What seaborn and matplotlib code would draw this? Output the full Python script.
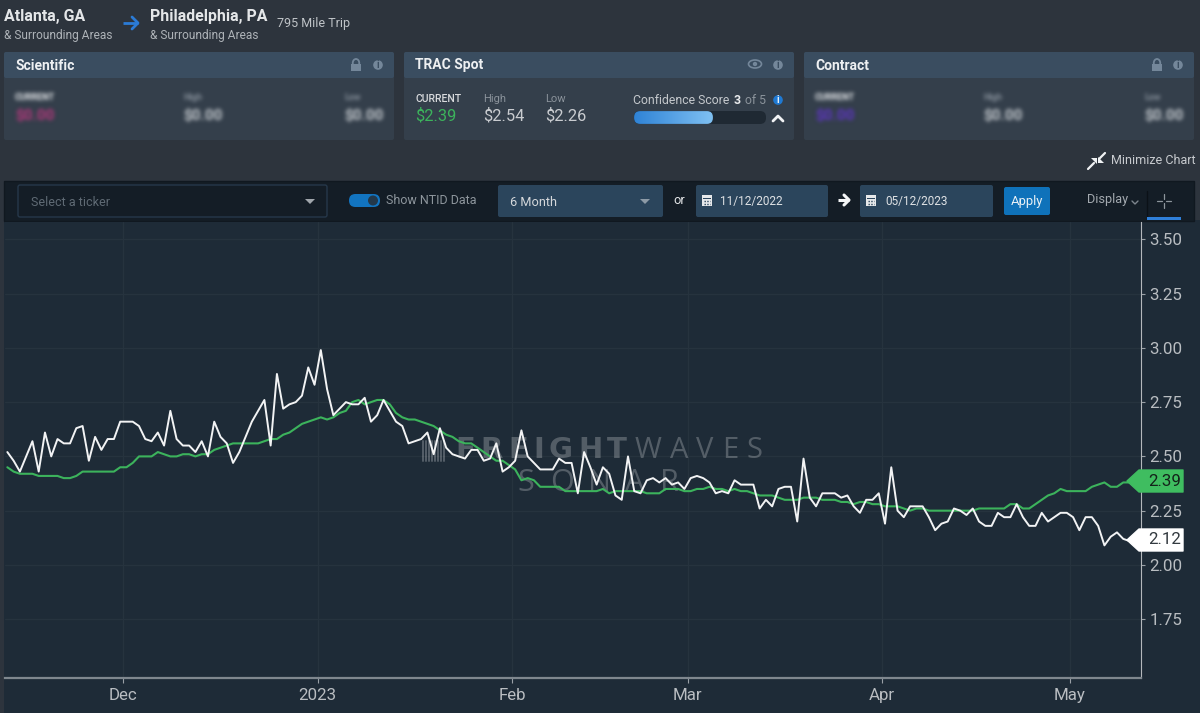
import matplotlib
matplotlib.use('Agg')
import matplotlib.pyplot as plt
from matplotlib.colors import to_rgb
from matplotlib.patches import FancyBboxPatch, Rectangle, Polygon, Circle, Ellipse
import numpy as np
import pandas as pd
import seaborn as sns

# daily rates, 11/12/2022 to 05/11/2023
ntid = [2.52,2.48,2.43,2.50,2.57,2.43,2.61,2.50,2.58,2.56,2.56,2.63,2.64,2.48,2.59,2.53,2.58,2.58,2.66,2.66,
        2.66,2.64,2.58,2.57,2.61,2.55,2.71,2.58,2.55,2.55,2.52,2.57,2.50,2.66,2.59,2.56,2.47,2.52,2.59,2.66,
        2.71,2.76,2.55,2.88,2.72,2.74,2.75,2.78,2.91,2.83,2.99,2.81,2.69,2.72,2.75,2.74,2.74,2.77,2.66,2.69,
        2.76,2.71,2.66,2.64,2.56,2.57,2.58,2.61,2.51,2.63,2.54,2.51,2.50,2.49,2.53,2.53,2.48,2.49,2.56,2.43,
        2.45,2.48,2.62,2.50,2.47,2.44,2.44,2.44,2.49,2.47,2.47,2.33,2.52,2.45,2.37,2.45,2.42,2.32,2.30,2.50,
        2.34,2.33,2.39,2.40,2.38,2.40,2.37,2.38,2.35,2.40,2.41,2.40,2.38,2.33,2.34,2.33,2.39,2.37,2.37,2.37,
        2.26,2.30,2.27,2.35,2.36,2.36,2.20,2.49,2.31,2.27,2.33,2.33,2.33,2.31,2.32,2.27,2.24,2.30,2.30,2.33,
        2.19,2.45,2.25,2.22,2.27,2.27,2.27,2.22,2.16,2.19,2.20,2.26,2.25,2.23,2.26,2.20,2.18,2.18,2.24,2.22,
        2.22,2.28,2.22,2.18,2.18,2.24,2.20,2.22,2.24,2.24,2.22,2.16,2.22,2.22,2.18,2.09,2.13,2.15,2.12,2.11,2.12]
trac = [2.45,2.43,2.42,2.42,2.42,2.41,2.41,2.41,2.41,2.40,2.40,2.41,2.43,2.43,2.43,2.43,2.43,2.43,2.45,2.45,
        2.47,2.50,2.50,2.50,2.52,2.51,2.50,2.50,2.51,2.51,2.50,2.51,2.51,2.53,2.54,2.55,2.56,2.56,2.56,2.56,
        2.56,2.57,2.58,2.58,2.60,2.61,2.63,2.65,2.66,2.67,2.68,2.67,2.68,2.70,2.71,2.75,2.76,2.74,2.75,2.76,
        2.76,2.74,2.70,2.68,2.67,2.67,2.66,2.65,2.64,2.62,2.60,2.59,2.57,2.56,2.56,2.54,2.52,2.50,2.48,2.48,
        2.46,2.44,2.39,2.40,2.39,2.36,2.36,2.36,2.36,2.34,2.34,2.34,2.34,2.34,2.34,2.35,2.33,2.34,2.34,2.34,
        2.34,2.34,2.33,2.33,2.33,2.35,2.35,2.35,2.34,2.34,2.35,2.35,2.36,2.35,2.35,2.34,2.35,2.34,2.34,2.33,
        2.32,2.32,2.32,2.31,2.30,2.30,2.30,2.31,2.31,2.31,2.30,2.30,2.30,2.29,2.29,2.28,2.29,2.29,2.28,2.28,
        2.27,2.27,2.27,2.26,2.25,2.26,2.26,2.25,2.25,2.25,2.25,2.25,2.25,2.25,2.25,2.26,2.26,2.26,2.26,2.26,
        2.28,2.28,2.26,2.26,2.28,2.30,2.32,2.33,2.35,2.34,2.34,2.34,2.34,2.36,2.37,2.38,2.36,2.36,2.38,2.38,2.39]

y_ticks = [1.75, 2.00, 2.25, 2.50, 2.75, 3.00, 3.25, 3.50]
x_ticks = ['2022-12-01', '2023-01-01', '2023-02-01', '2023-03-01', '2023-04-01', '2023-05-01']
x_labels = ['Dec', '2023', 'Feb', 'Mar', 'Apr', 'May']

PAGE = '#2d343d'
CARD_HEAD = '#3a4d60'
CARD_BODY = '#343f4b'
CHART = '#1e2b37'
BAR = '#141d26'
FIELD = '#2b455c'
GRID = '#26333e'
GREEN = '#3cb35c'
LIGHT = '#c8cbcf'

sns.set_theme(style='dark')
plt.rcParams['font.family'] = ['Roboto', 'DejaVu Sans']

df = pd.DataFrame({
    'date': pd.date_range('2022-11-12 12:00', periods=len(ntid), freq='D'),
    'ntid': ntid,
    'trac': trac,
})

fig = plt.figure(figsize=(12, 7.13), dpi=100, facecolor=PAGE)

# page furniture is laid out in pixels on a full-figure axes
bg = fig.add_axes([0, 0, 1, 1], zorder=0)
bg.set_xlim(0, 1200)
bg.set_ylim(713, 0)
bg.axis('off')


def box(x0, y0, x1, y1, color, r=2, ec='none', z=1):
    bg.add_patch(FancyBboxPatch((x0 + r, y0 + r), x1 - x0 - 2 * r, y1 - y0 - 2 * r,
                                boxstyle='round,pad=%s,rounding_size=%s' % (r, r),
                                fc=color, ec=ec, lw=1, zorder=z))


def txt(x, y, s, size=10, color=LIGHT, **kw):
    kw.setdefault('va', 'center')
    kw.setdefault('zorder', 5)
    return bg.text(x, y, s, fontsize=size, color=color, **kw)


def blur_filter(color, sigma=2.0, pad=8):
    # the locked cards are blurred in the app, so blur the glyph alpha here too
    rgb = to_rgb(color)
    kernel = np.exp(-0.5 * (np.arange(-pad, pad + 1) / sigma) ** 2)
    kernel = kernel / kernel.sum()

    def apply(image, dpi):
        alpha = np.pad(image[:, :, 3], pad)
        alpha = np.apply_along_axis(np.convolve, 0, alpha, kernel, mode='same')
        alpha = np.apply_along_axis(np.convolve, 1, alpha, kernel, mode='same')
        out = np.zeros(alpha.shape + (4,))
        out[:, :, :3] = rgb
        out[:, :, 3] = np.clip(alpha * 1.5, 0, 1)
        return out, -pad, -pad
    return apply


def blurred(x, y, s, size, color):
    t = txt(x, y, s, size, color, fontweight='bold')
    t.set_agg_filter(blur_filter(color))


def lock(x, y):
    bg.add_patch(Rectangle((x - 5, y - 1), 10, 7, fc='#74879a', ec='none', zorder=5))
    bg.add_patch(Ellipse((x, y - 2), 6.5, 8, fc='none', ec='#74879a', lw=1.3, zorder=4))


def info(x, y, color='#74879a', fg=CARD_HEAD):
    bg.add_patch(Circle((x, y), 4.8, fc=color, ec='none', zorder=5))
    txt(x, y, 'i', 7, fg, ha='center', fontweight='bold', zorder=6)


def calendar(x, y):
    bg.add_patch(Rectangle((x - 5, y - 5), 10, 11, fc='#e6e8ea', ec='none', zorder=5))
    bg.add_patch(Rectangle((x - 4, y - 2), 8, 1, fc=FIELD, ec='none', zorder=6))
    bg.plot([x - 3, x + 3], [y + 1, y + 1], color=FIELD, lw=1, ls=(0, (1, 1)), zorder=6)
    bg.plot([x - 3, x + 3], [y + 3.5, y + 3.5], color=FIELD, lw=1, ls=(0, (1, 1)), zorder=6)


def arrow(x0, x1, y, color, lw=2.0, head=6):
    bg.plot([x0, x1], [y, y], color=color, lw=lw, zorder=5, solid_capstyle='butt')
    bg.plot([x1 - head, x1, x1 - head], [y - head, y, y + head], color=color, lw=lw, zorder=5)


# route header
txt(4, 17, 'Atlanta, GA', 11.4, '#e4e6e8', fontweight='bold')
txt(4, 35, '& Surrounding Areas', 8.6, '#aeb3b8')
arrow(123, 138, 23, '#2b7bd6')
txt(150, 17, 'Philadelphia, PA', 11.4, '#e4e6e8', fontweight='bold')
txt(150, 35, '& Surrounding Areas', 8.6, '#aeb3b8')
txt(277, 24, '795 Mile Trip', 9, '#c0c4c8')

# the three rate cards
for x0, x1, name in [(4, 394, 'Scientific'), (404, 794, 'TRAC Spot'), (804, 1194, 'Contract')]:
    box(x0, 52, x1, 140, CARD_BODY)
    box(x0, 52, x1, 78, CARD_HEAD)
    txt(x0 + 11, 65.5, name, 10, '#eef0f2', fontweight='bold')
lock(356, 65)
info(378, 65)
lock(1157, 65)
info(1178, 65)
bg.add_patch(Ellipse((755, 64), 13, 8, fc='none', ec='#74879a', lw=1.2, zorder=5))
bg.add_patch(Circle((755, 64), 2.2, fc='#74879a', ec='none', zorder=5))
info(778, 65)

for x, amount_color, hi, lo in [(15, '#8a3a6c', 183, 344), (815, '#50389c', 983, 1144)]:
    blurred(x, 98, 'CURRENT', 6.5, '#b4b9be')
    blurred(x, 116, '$0.00', 11, amount_color)
    blurred(hi, 98, 'High', 6.5, '#6d7782')
    blurred(hi, 116, '$0.00', 11, '#959ca3')
    blurred(lo, 98, 'Low', 6.5, '#6d7782')
    blurred(lo, 116, '$0.00', 11, '#959ca3')

txt(415, 99, 'CURRENT', 7.6, '#d8dadd', fontweight='medium')
txt(415, 116, '$2.39', 11.8, GREEN)
txt(483, 99, 'High', 8, '#8b939b')
txt(483, 116, '$2.54', 11.8, '#c9ccd0')
txt(545, 99, 'Low', 8, '#8b939b')
txt(545, 116, '$2.26', 11.8, '#c9ccd0')
txt(633, 100, 'Confidence Score', 8.8, '#c4c8cc')
txt(734, 100, '3', 8.8, '#e8eaec', fontweight='bold')
txt(745, 100, 'of 5', 8.8, '#8b939b')
info(778, 100, '#1f79d2', '#e8eef4')
box(634, 111, 766, 124, '#1f2933', r=6)
fill = FancyBboxPatch((640, 117), 67, 1, boxstyle='round,pad=5.9,rounding_size=6', fc='none', ec='none', zorder=3)
bg.add_patch(fill)
img = bg.imshow(np.linspace(0, 1, 100).reshape(1, -1), extent=(634, 713, 124, 111), aspect='auto',
                cmap=matplotlib.colors.LinearSegmentedColormap.from_list('conf', ['#2f83d6', '#7fc0f2']), zorder=3)
img.set_clip_path(fill)
bg.set_xlim(0, 1200)
bg.set_ylim(713, 0)
bg.plot([773, 778, 783], [121, 116, 121], color='#f0f2f4', lw=2, zorder=5)

# minimize link
txt(1111, 161, 'Minimize Chart', 9, '#c8cbcf')
bg.plot([1088, 1094], [169, 163], color='#f0f2f4', lw=1.6, zorder=5)
bg.plot([1099, 1105], [159, 153], color='#f0f2f4', lw=1.6, zorder=5)
bg.add_patch(Polygon([[1091, 158], [1097, 158], [1097, 164]], fc='#f0f2f4', ec='none', zorder=5))
bg.add_patch(Polygon([[1098, 157], [1104, 163], [1098, 163]], fc='#f0f2f4', ec='none', zorder=5))

# chart body and toolbar
bg.add_patch(Rectangle((4, 220), 1196, 493, fc=CHART, ec='none', zorder=1))
bg.add_patch(Rectangle((4, 181), 1190, 40, fc=BAR, ec='#101820', lw=1, zorder=1))
box(18, 185, 327, 217, BAR, r=2, ec='#26384a', z=2)
txt(31, 202, 'Select a ticker', 9, '#5f6a74')
bg.add_patch(Polygon([[305, 199], [315, 199], [310, 204]], fc='#a0a6ac', ec='none', zorder=5))
box(349, 194, 380, 207, '#1274c0', r=6.4, z=3)
bg.add_patch(Circle((373, 200.5), 5, fc='#23384a', ec='none', zorder=4))
txt(386, 201, 'Show NTID Data', 9, '#8d959c')
box(498, 185, 663, 217, FIELD, z=2)
txt(510, 202, '6 Month', 9.2, '#d5d8db')
bg.add_patch(Polygon([[640, 199], [650, 199], [645, 204]], fc='#8d9aa6', ec='none', zorder=5))
txt(673, 201, 'or', 9.2, '#e4e6e8')
box(696, 185, 828, 217, FIELD, z=2)
calendar(707, 200)
txt(720, 201, '11/12/2022', 8.5, '#dfe2e5')
arrow(838, 849, 200, '#f4f5f6', lw=2.2, head=5)
box(860, 185, 993, 217, FIELD, z=2)
calendar(871, 200)
txt(885, 201, '05/12/2023', 8.5, '#dfe2e5')
box(1004, 187, 1050, 215, '#0f72ba', z=2)
txt(1027, 202, 'Apply', 9.4, '#e8f0f6', ha='center')
txt(1087, 200, 'Display', 9.2, '#a3a9af')
bg.plot([1132, 1135, 1138], [201, 204, 201], color='#7d858d', lw=1, zorder=5)
bg.plot([1147, 1147], [191, 217], color='#0b1117', lw=1, zorder=5)
for xs, ys in [([1164, 1164], [194, 199]), ([1164, 1164], [203, 208]), ([1157, 1162], [201, 201]), ([1166, 1171], [201, 201])]:
    bg.plot(xs, ys, color='#8d959c', lw=0.9, zorder=5)
bg.add_patch(Rectangle((1147, 217), 34, 2.5, fc='#2f7fd9', ec='none', zorder=5))

# price chart
ax = fig.add_axes([5 / 1200, 1 - 678 / 713, 1136 / 1200, 456 / 713], zorder=1)
ax.set_facecolor(CHART)
sns.lineplot(data=df, x='date', y='trac', color=GREEN, linewidth=1.5, ax=ax, zorder=3)
sns.lineplot(data=df, x='date', y='ntid', color='#f2f3f4', linewidth=1.4, ax=ax, zorder=4)
ax.set_xlim(pd.Timestamp('2022-11-12 03:00'), pd.Timestamp('2023-05-12 08:00'))
ax.set_ylim(1.479, 3.58)
ax.set_xlabel('')
ax.set_ylabel('')
ax.yaxis.tick_right()
ax.set_yticks(y_ticks)
ax.set_yticklabels(['%.2f' % v for v in y_ticks], fontsize=12.2, color='#b9bdc1')
ax.set_xticks(pd.to_datetime(x_ticks))
ax.set_xticklabels(x_labels, fontsize=12.2, color='#b9bdc1')
ax.tick_params(axis='x', length=3.6, width=0.8, color='#9aa0a6', pad=3.4, bottom=True)
ax.tick_params(axis='y', length=3, width=0.8, color='#9aa0a6', pad=3, right=True)
ax.grid(True, color=GRID, linewidth=0.9)
ax.set_axisbelow(True)
for side in ['top', 'left']:
    ax.spines[side].set_visible(False)
ax.spines['right'].set_color('#b4b8bc')
ax.spines['right'].set_linewidth(0.8)
ax.spines['bottom'].set_color('#7f878e')
ax.spines['bottom'].set_linewidth(1.6)

# watermark sits under the lines
mark = dict(transform=bg.transData, color='#ffffff', alpha=0.24, zorder=2, va='center', ha='left', clip_on=False)
for x, ch in zip([455, 480, 508, 533, 549, 578, 607], 'FREIGHT'):
    ax.text(x, 450, ch, fontsize=21, fontweight='bold', family='DejaVu Sans', **mark)
for x, ch in zip([635, 670, 696, 722, 747], 'WAVES'):
    ax.text(x, 450, ch, fontsize=21, family='Open Sans', **mark)
for x, ch in zip([517, 550, 588, 625, 660], 'SONAR'):
    ax.text(x, 483, ch, fontsize=22, family='Open Sans', **mark)
for x in np.arange(423, 447, 3):
    ax.plot([x, x], [441, 461], transform=bg.transData, color='#ffffff', alpha=0.24, lw=1.4, zorder=2, clip_on=False)

# last-value flags on the axis
for last, fc, tc, yc in [(trac[-1], '#3fbd60', '#14231a', 481), (ntid[-1], '#ffffff', '#333a40', 540)]:
    ax.add_patch(Polygon([[1127, yc], [1139, yc - 11], [1183, yc - 11], [1183, yc + 11], [1139, yc + 11]],
                         transform=bg.transData, fc=fc, ec=fc, lw=1, joinstyle='round', zorder=6, clip_on=False))
    ax.text(1181, yc, '%.2f' % last, transform=bg.transData, fontsize=12.2, color=tc, ha='right', va='center',
            zorder=7, clip_on=False)

fig.savefig('out.png', dpi=100, facecolor=PAGE)
